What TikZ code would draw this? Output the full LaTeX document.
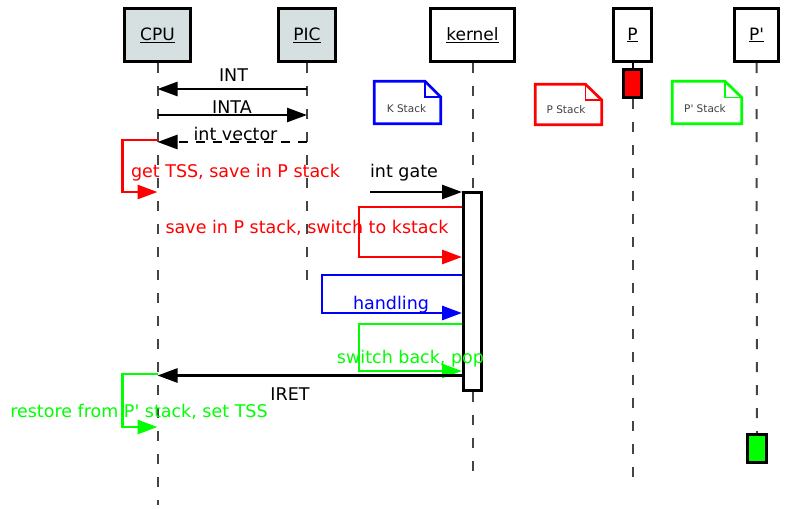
\documentclass[tikz,border=0pt]{standalone}
\usepackage{fontspec}
\setmainfont{DejaVu Sans}
\usetikzlibrary{arrows.meta}
\definecolor{objfill}{HTML}{D6E0E0}
\definecolor{lifegray}{HTML}{444444}
\definecolor{notegray}{HTML}{404040}
\definecolor{ured}{HTML}{FF0000}
\definecolor{ublue}{HTML}{0000FF}
\definecolor{ugreen}{HTML}{00FF00}
\begin{document}
\begin{tikzpicture}[x=1pt,y=-1pt,
  obj/.style={draw=black, line width=3pt, inner sep=0pt, minimum height=53pt, font=\fontsize{17}{20}\selectfont},
  act/.style={draw=black, line width=3pt, inner sep=0pt},
  life/.style={draw=lifegray, line width=2pt, dash pattern=on 10pt off 13pt},
  msg/.style={draw=black, line width=2.6pt, -{Triangle[length=20pt,width=14pt]}},
  selfmsg/.style={line width=2.8pt, -{Triangle[length=20pt,width=14pt]}},
  lbl/.style={anchor=base, inner sep=0pt, font=\fontsize{17.5}{20}\selectfont},
  note/.style={line width=2.7pt, fill=white, line join=miter},
  notefold/.style={line width=1.5pt},
  notetext/.style={anchor=base, inner sep=0pt, text=notegray, font=\fontsize{10.5}{12}\selectfont},
]
\useasboundingbox (0,0) rectangle (785,509);

% objects
\node[obj, fill=objfill, minimum width=66pt] (cpu) at (157.5,35) {\underline{CPU}};
\node[obj, fill=objfill, minimum width=57pt] (pic) at (307,35) {\underline{PIC}};
\node[obj, fill=white, minimum width=84pt] (kernel) at (472.5,35) {\underline{kernel}};
\node[obj, fill=white, minimum width=38pt] (p) at (632.5,35) {\underline{P}};
\node[obj, fill=white, minimum width=44pt] (pp) at (756.5,35) {\underline{P\textquotesingle}};

% activations
\node[act, fill=white, minimum width=18pt, minimum height=198pt] (kact) at (472.5,291.5) {};
\node[act, fill=ured, minimum width=18pt, minimum height=28pt] (pact) at (632.5,83.5) {};
\node[act, fill=ugreen, minimum width=19pt, minimum height=28pt] (ppact) at (757,448.5) {};

% lifeline ends
\coordinate (cpuE) at (157.5,505);
\coordinate (picE) at (307,284);
\coordinate (kerE) at (472.5,484);
\coordinate (pE) at (632.5,489);

\draw[life] (cpu.south) -- (cpuE);
\draw[life] (pic.south) -- (picE);
\draw[life] (kernel.south) -- (kact.north);
\draw[life] (kact.south) -- (kerE);
\draw[line width=2pt] (p.south) -- (pact.north);
\draw[life] (pact.south) -- (pE);
\draw[life] (pp.south) -- (ppact.north);

% notes
\draw[note, draw=ublue] (374.25,81.25) -- (425,81.25) -- (440.75,97) -- (440.75,123.75) -- (374.25,123.75) -- cycle;
\draw[notefold, draw=ublue] (425,81.25) -- (425,97) -- (440.75,97);
\node[notetext] (knote) at (406.5,112) {K Stack};

\draw[note, draw=ured] (535.25,84.25) -- (585.5,84.25) -- (601.75,100) -- (601.75,124.75) -- (535.25,124.75) -- cycle;
\draw[notefold, draw=ured] (585.5,84.25) -- (585.5,100) -- (601.75,100);
\node[notetext] (pnote) at (566,113) {P Stack};

\draw[note, draw=ugreen] (672.25,81.25) -- (725,81.25) -- (741.75,97.5) -- (741.75,123.75) -- (672.25,123.75) -- cycle;
\draw[notefold, draw=ugreen] (725,81.25) -- (725,97.5) -- (741.75,97.5);
\node[notetext] (ppnote) at (705,112) {P\textquotesingle{} Stack};

% message end points
\coordinate (intP) at (307,89);
\coordinate (intC) at (157.5,89);
\coordinate (intaC) at (157.5,115);
\coordinate (intaP) at (307,115);
\coordinate (ivP) at (307,142);
\coordinate (ivC) at (157.5,142);
\coordinate (s1a) at (157.5,140);
\coordinate (s1b) at (157.5,192);
\coordinate (gate0) at (370,192);
\coordinate (gate1) at (kact.west |- 0,192);
\coordinate (k1a) at (kact.west |- 0,207);
\coordinate (k1b) at (kact.west |- 0,257);
\coordinate (k2a) at (kact.west |- 0,275);
\coordinate (k2b) at (kact.west |- 0,313);
\coordinate (k3a) at (kact.west |- 0,324);
\coordinate (k3b) at (kact.west |- 0,371);
\coordinate (iretK) at (kact.west |- 0,375.5);
\coordinate (iretC) at (157.5,375.5);
\coordinate (s2a) at (157.5,374);
\coordinate (s2b) at (157.5,427);

% messages
\draw[msg] (intP) -- (intC);
\node[lbl] (lint) at (233.5,81.5) {INT};
\draw[msg] (intaC) -- (intaP);
\node[lbl] (linta) at (232,113) {INTA};
\draw[msg, dash pattern=on 9pt off 8pt] (ivP) -- (ivC);
\node[lbl] (liv) at (235.5,140) {int vector};

\draw[selfmsg, draw=ured] (s1a) -- ++(-35,0) |- (s1b);
\node[lbl, text=ured] (ls1) at (235.5,177) {get TSS, save in P stack};

\draw[msg] (gate0) -- (gate1);
\node[lbl] (lgate) at (404,177) {int gate};

\draw[selfmsg, draw=ured] (k1a) -- (359,207) |- (k1b);
\node[lbl, text=ured] (lk1) at (307,233) {save in P stack, switch to kstack};

\draw[selfmsg, draw=ublue] (k2a) -- (322,275) |- (k2b);
\node[lbl, text=ublue] (lk2) at (391,309.5) {handling};

\draw[selfmsg, draw=ugreen] (k3a) -- (359,324) |- (k3b);
\node[lbl, text=ugreen] (lk3) at (410.5,363.5) {switch back, pop};

\draw[msg] (iretK) -- (iretC);
\node[lbl] (liret) at (290,400) {IRET};

\draw[selfmsg, draw=ugreen] (s2a) -- ++(-35,0) |- (s2b);
\node[lbl, text=ugreen] (ls2) at (139,417.5) {restore from P\textquotesingle{} stack, set TSS};
\end{tikzpicture}
\end{document}
